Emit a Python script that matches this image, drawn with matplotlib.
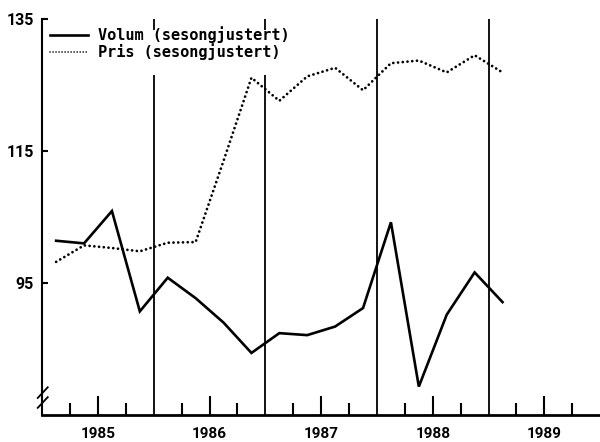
import matplotlib
matplotlib.use("Agg")
import matplotlib.pyplot as plt
from matplotlib.patches import Rectangle
from matplotlib.lines import Line2D

# ---- data (quarterly, 1985K1 - 1989K1) ----
kvartal = ['1985K1', '1985K2', '1985K3', '1985K4',
           '1986K1', '1986K2', '1986K3', '1986K4',
           '1987K1', '1987K2', '1987K3', '1987K4',
           '1988K1', '1988K2', '1988K3', '1988K4',
           '1989K1']
volum = [101.4, 101.0, 105.9, 90.7,
         95.8, 92.7, 89.0, 84.4,
         87.4, 87.1, 88.4, 91.2,
         104.2, 79.3, 90.2, 96.6,
         92.1]
pris = [98.2, 100.7, 100.3, 99.8,
        101.1, 101.2, 113.5, 126.1,
        122.6, 126.3, 127.6, 124.2,
        128.3, 128.7, 126.9, 129.5,
        126.9]
aar = [1985, 1986, 1987, 1988, 1989]
y_ticks = [95, 115, 135]
legend_labels = ['Volum (sesongjustert)', 'Pris (sesongjustert)']

x = [int(k[:4]) + (int(k[-1]) - 0.5) / 4 for k in kvartal]

num_font = ['Roboto', 'DejaVu Sans']

fig = plt.figure(figsize=(6.0, 4.42), dpi=100)
ax = fig.add_axes([0.0703, 0.0611, 0.930, 0.896])

ax.set_xlim(1985, 1990)
ax.set_ylim(75, 135)

# year separator lines
for a in aar[1:]:
    ax.axvline(a, color='black', lw=1.3, zorder=1)

ax.plot(x, volum, color='black', lw=1.9, solid_joinstyle='miter', zorder=3)
ax.plot(x, pris, color='black', lw=2.0, linestyle=(0, (0.01, 1.7)),
        dash_capstyle='round', zorder=3)

# spines
for s in ['top', 'right']:
    ax.spines[s].set_visible(False)
ax.spines['left'].set_linewidth(1.5)
ax.spines['bottom'].set_linewidth(2.0)

# x ticks: half-year major (labelled), quarter minor
ax.set_xticks([a + 0.5 for a in aar])
ax.set_xticklabels([str(a) for a in aar], fontfamily=num_font,
                   fontweight='bold', fontsize=11)
ax.set_xticks([a + q for a in aar for q in (0.25, 0.75)], minor=True)
ax.tick_params(axis='x', which='major', direction='in', length=14, width=1.5, pad=9)
ax.tick_params(axis='x', which='minor', direction='in', length=8.8, width=1.5)

ax.set_yticks(y_ticks)
ax.set_yticklabels([str(v) for v in y_ticks], fontfamily=num_font,
                   fontweight='bold', fontsize=11.5)
ax.tick_params(axis='y', direction='in', length=4.5, width=1.5, pad=6)

# legend background box (covers the separator lines)
ax.add_patch(Rectangle((0.006, 0.859), 0.46, 0.113, transform=ax.transAxes,
                       facecolor='white', edgecolor='none', zorder=2))
handles = [Line2D([], [], color='black', lw=1.9),
           Line2D([], [], color='black', lw=1.2, linestyle=(0, (0.01, 1.8)),
                  dash_capstyle='round')]
leg = ax.legend(handles, legend_labels, loc='upper left',
                bbox_to_anchor=(0.0, 1.0), frameon=False,
                prop={'family': 'DejaVu Sans Mono', 'weight': 'bold', 'size': 11},
                handlelength=2.5, handletextpad=0.65, labelspacing=0.0,
                borderaxespad=0.3, borderpad=0.2)
leg.set_zorder(4)

# axis break marks
for dy in (0.0, 0.025):
    ax.plot([-0.008, 0.010], [0.018 + dy, 0.045 + dy], transform=ax.transAxes,
            color='black', lw=1.3, clip_on=False, zorder=5)

fig.savefig('out.png', dpi=100, facecolor='white')
